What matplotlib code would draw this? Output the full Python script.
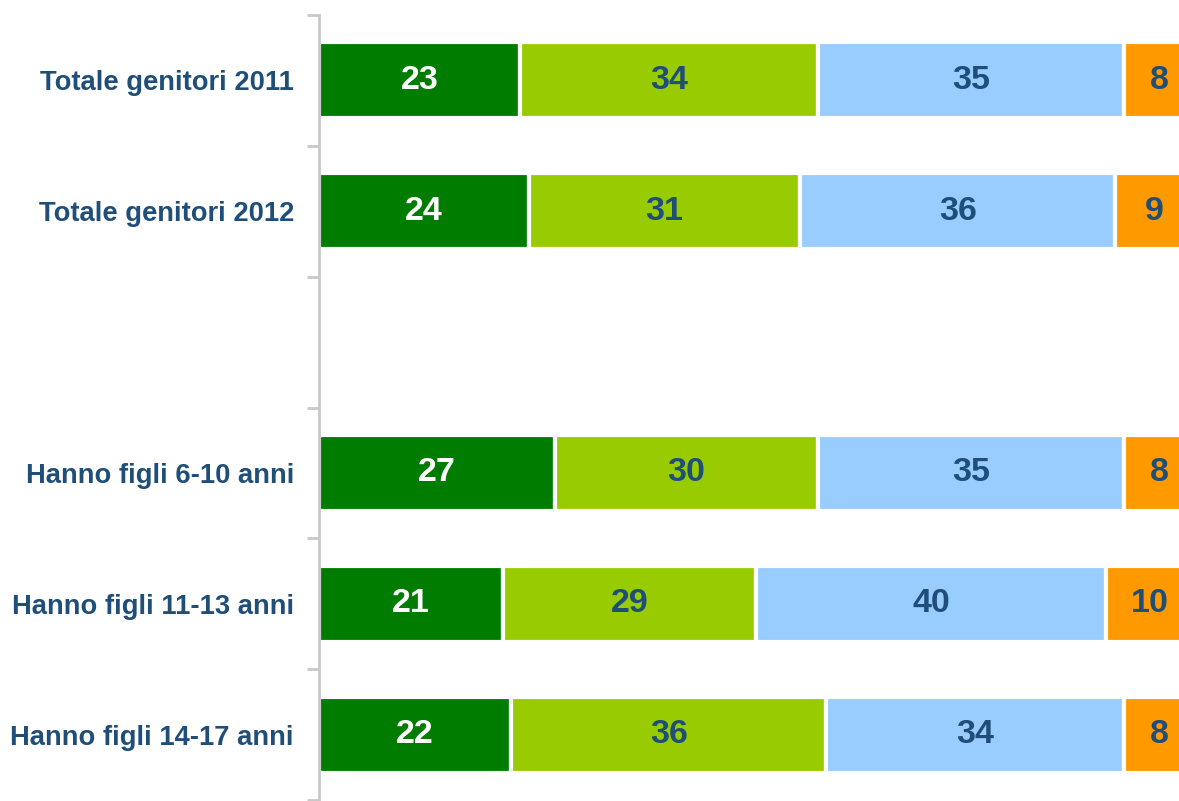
import matplotlib as mpl
import matplotlib.pyplot as plt
import numpy as np

mpl.use("Agg")
plt.rcParams["font.family"] = ["Liberation Sans", "DejaVu Sans"]

categories = ["Totale genitori 2011", "Totale genitori 2012", "",
              "Hanno figli 6-10 anni", "Hanno figli 11-13 anni", "Hanno figli 14-17 anni"]
s1 = [23, 24, np.nan, 27, 21, 22]
s2 = [34, 31, np.nan, 30, 29, 36]
s3 = [35, 36, np.nan, 35, 40, 34]
s4 = [8, 9, np.nan, 8, 10, 8]
series = [s1, s2, s3, s4]
colors = ["#007D00", "#99CC00", "#99CCFF", "#FF9900"]
text_colors = ["white", "#1F4E79", "#1F4E79", "#1F4E79"]
navy = "#1F4E79"

fig = plt.figure(figsize=(11.79, 8.01), dpi=100)
ax = fig.add_axes([319 / 1179, 1 / 801, 1 - 319 / 1179, 785 / 801])

y = np.arange(len(categories))
left = np.zeros(len(categories))
for vals, c, tc in zip(series, colors, text_colors):
    v = np.array(vals, dtype=float)
    ok = ~np.isnan(v)
    ax.barh(y[ok], v[ok], left=left[ok], height=0.58, color=c,
            edgecolor="white", linewidth=3)
    for yi, vi, li in zip(y[ok], v[ok], left[ok]):
        ax.text(li + vi / 2, yi, f"{int(vi)}", ha="center", va="center",
                color=tc, fontsize=24.5, fontweight="bold")
    left[ok] += v[ok]

ax.set_xlim(0, 98.3)
ax.set_ylim(len(categories) - 0.5, -0.5)
ax.set_xticks([])
ax.set_yticks(y)
ax.set_yticklabels(categories, fontsize=19.7, fontweight="bold", color=navy)
ax.tick_params(axis="y", which="major", length=0, pad=18)
ax.set_yticks(np.arange(-0.5, len(categories), 1), minor=True)
ax.tick_params(axis="y", which="minor", length=9, width=2, color="#C8C8C8")
for s in ["top", "right", "bottom"]:
    ax.spines[s].set_visible(False)
ax.spines["left"].set_color("#C8C8C8")
ax.spines["left"].set_linewidth(2)

fig.savefig("out.png", dpi=100)
plt.close(fig)
